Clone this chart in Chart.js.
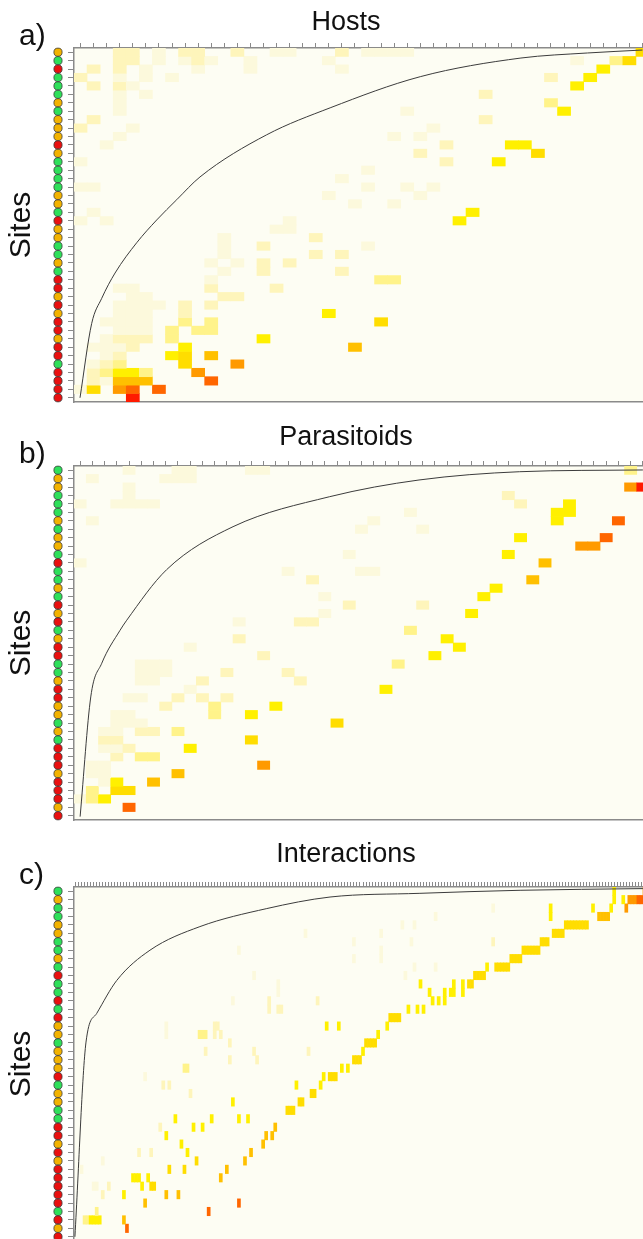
<!DOCTYPE html>
<html>
<head>
<meta charset="utf-8">
<script src="https://cdn.jsdelivr.net/npm/chart.js@4.4.0/dist/chart.umd.min.js"></script>
<style>
  html, body { margin: 0; padding: 0; background: #fff; width: 643px; height: 1239px; overflow: hidden; }
  .panel { position: absolute; left: 0; width: 660px; height: 420px; }
</style>
</head>
<body>
<div class="panel" style="top:0px"><canvas id="hosts"></canvas></div>
<div class="panel" style="top:418px"><canvas id="parasitoids"></canvas></div>
<div class="panel" style="top:839px"><canvas id="interactions"></canvas></div>
<script>
var ROWS = 42;
var FONT = "'Liberation Sans', Arial, sans-serif";

// colour of each abundance level, 0 = empty cell
var levelColors = [null, "#fcf9dc", "#fef5bb", "#fff38a", "#fff000", "#ffdd00", "#ffc000", "#ff9a00", "#ff6600", "#ff1a00"];
var matrixBg = "#fdfdf3";
var siteColor = { G: "#2ee05a", O: "#f3b300", R: "#ea1010" };

// ---- a) Hosts ----
var hostCols = 44;
var hostSites = "OGRGGGOGOOOROGGGGOOGROOGGOGRRORORRORRGRRRR";
// [row, first column, last column, level]
var hostCells = [
  [0,3,4,2],[0,6,6,1],[0,8,9,2],[0,12,12,2],[0,15,16,1],[0,20,20,2],[0,22,25,1],[0,43,43,5],
  [1,3,4,2],[1,6,6,1],[1,8,8,1],[1,9,9,2],[1,10,10,1],[1,13,13,1],[1,19,19,1],[1,38,38,1],[1,41,41,3],[1,42,42,5],
  [2,1,1,2],[2,3,3,2],[2,5,5,1],[2,9,9,1],[2,13,13,1],[2,20,20,1],[2,40,40,4],
  [3,0,0,2],[3,3,3,1],[3,5,5,1],[3,7,7,1],[3,36,36,2],[3,39,39,4],
  [4,1,1,2],[4,3,3,2],[4,4,4,1],[4,38,38,4],
  [5,3,3,1],[5,5,5,1],[5,31,31,2],
  [6,3,3,1],[6,36,36,3],
  [7,3,3,1],[7,25,25,1],[7,37,37,4],
  [8,1,1,2],[8,31,31,2],
  [9,0,0,2],[9,4,4,1],[9,27,27,1],
  [10,3,3,1],[10,24,24,1],[10,26,26,1],
  [11,2,2,1],[11,28,28,2],[11,33,34,4],
  [12,26,26,2],[12,35,35,5],
  [13,0,0,1],[13,28,28,2],[13,32,32,4],
  [14,22,22,1],
  [15,20,20,1],
  [16,0,1,1],[16,22,22,1],[16,25,25,1],[16,27,27,1],
  [17,19,19,1],[17,26,26,1],
  [18,21,21,1],[18,24,24,1],
  [19,1,1,1],[19,30,30,4],
  [20,0,0,1],[20,2,2,1],[20,16,16,1],[20,29,29,4],
  [21,15,16,1],
  [22,11,11,1],[22,18,18,2],
  [23,11,11,1],[23,14,14,2],[23,22,22,1],
  [24,11,11,1],[24,18,18,2],[24,20,20,2],
  [25,10,10,1],[25,12,12,1],[25,14,14,2],[25,16,16,2],
  [26,11,11,1],[26,14,14,2],[26,20,20,2],
  [27,10,10,1],[27,23,24,3],
  [28,3,4,1],[28,10,10,2],[28,15,15,2],
  [29,4,5,1],[29,11,12,2],
  [30,3,4,1],[30,5,6,1],[30,8,8,2],[30,10,10,2],
  [31,3,3,1],[31,4,5,1],[31,8,8,2],[31,19,19,4],
  [32,2,3,1],[32,4,5,1],[32,8,8,3],[32,10,10,3],[32,23,23,5],
  [33,3,5,1],[33,7,7,3],[33,9,10,3],
  [34,2,2,1],[34,3,5,2],[34,7,7,3],[34,14,14,4],
  [35,1,1,1],[35,2,3,1],[35,4,4,2],[35,8,8,4],[35,21,21,6],
  [36,2,2,1],[36,3,3,2],[36,7,7,4],[36,8,8,5],[36,10,10,6],
  [37,1,1,1],[37,2,2,2],[37,3,3,3],[37,8,8,5],[37,12,12,7],
  [38,1,1,2],[38,2,2,3],[38,3,4,4],[38,5,5,3],[38,9,9,7],
  [39,1,1,2],[39,2,2,1],[39,3,4,6],[39,5,5,6],[39,10,10,8],
  [40,0,0,1],[40,1,1,5],[40,3,3,7],[40,4,4,8],[40,6,6,8],
  [41,4,4,9]
];
var hostCurveX = [0.46, 1.35, 2.12, 3.14, 4.8, 6.33, 7.86, 9.64, 14.74, 19.6, 26.5, 34.2, 39.3, 43.5];
var hostCurveY = [41.5, 32.7, 29.7, 26.7, 23.1, 20.4, 18.0, 15.3, 10.3, 7.1, 3.4, 1.19, 0.59, 0.24];

// ---- b) Parasitoids ----
var paraCols = 47;
var paraSites = "GOOGGGOGOOGRGGOGRORGORRGGORROOGOGRRRORRROR";
var paraCells = [
  [0,4,4,1],[0,8,9,1],[0,14,15,1],[0,45,45,3],
  [1,1,1,1],[1,7,9,1],
  [2,4,4,1],[2,45,45,7],[2,46,46,9],
  [3,4,4,1],[3,35,35,2],
  [4,0,0,1],[4,3,6,1],[4,36,36,2],[4,40,40,4],
  [5,27,27,1],[5,39,40,4],
  [6,1,1,1],[6,24,24,1],[6,39,39,4],[6,44,44,8],
  [7,23,23,1],[7,28,28,1],
  [8,36,36,4],[8,43,43,8],
  [9,41,42,7],
  [10,22,22,1],[10,35,35,4],
  [11,0,0,1],[11,38,38,6],
  [12,17,17,1],[12,23,24,1],
  [13,19,19,2],[13,37,37,6],
  [14,34,34,4],
  [15,20,20,1],[15,33,33,4],
  [16,22,22,2],[16,28,28,2],
  [17,20,20,1],[17,32,32,4],
  [18,13,13,1],[18,18,19,2],
  [19,27,27,3],
  [20,13,13,2],[20,30,30,4],
  [21,9,9,1],[21,31,31,4],
  [22,15,15,2],[22,29,29,4],
  [23,5,7,1],[23,26,26,3],
  [24,5,7,1],[24,12,12,2],[24,17,17,2],
  [25,5,6,1],[25,10,10,2],[25,18,18,2],
  [26,9,9,1],[26,25,25,4],
  [27,4,5,1],[27,8,8,2],[27,10,10,2],[27,12,12,2],
  [28,7,7,2],[28,11,11,3],[28,16,16,4],
  [29,3,4,1],[29,11,11,3],[29,14,14,4],
  [30,3,5,1],[30,21,21,5],
  [31,2,3,1],[31,5,6,2],[31,8,8,3],
  [32,2,3,2],[32,14,14,5],
  [33,2,3,1],[33,4,4,2],[33,9,9,4],
  [34,3,3,2],[34,5,6,3],
  [35,1,2,1],[35,15,15,7],
  [36,1,2,1],[36,8,8,6],
  [37,2,2,1],[37,3,3,4],[37,6,6,6],
  [38,1,1,3],[38,3,4,5],
  [39,0,0,1],[39,1,1,3],[39,2,2,4],
  [40,4,4,8]
];
var paraCurveX = [0.5, 1.37, 2.27, 3.76, 4.31, 7.57, 13.0, 20.9, 28.2, 36.4, 46.5];
var paraCurveY = [41.6, 27.4, 23.4, 19.5, 18.3, 12.3, 7.2, 3.64, 1.66, 0.68, 0.47];

// ---- c) Interactions ----
var interCols = 190;
var interSites = "GOGGOOGGOGRGGRGROOGOOORGOOGGRRORORRRRRGROR";
var interCells = [
  [0,178,178,4],[0,188,189,7],
  [1,178,178,4],[1,181,181,4],[1,183,185,7],[1,186,187,8],
  [2,138,138,1],[2,157,157,4],[2,171,171,4],[2,177,177,4],[2,182,182,7],
  [3,119,119,1],[3,157,157,4],[3,173,176,6],
  [4,108,108,1],[4,112,112,1],[4,162,169,5],
  [5,76,76,1],[5,101,101,1],[5,158,161,5],
  [6,92,92,1],[6,111,111,1],[6,138,138,2],[6,154,156,5],
  [7,54,54,1],[7,101,101,1],[7,148,153,5],
  [8,92,92,1],[8,101,101,1],[8,144,147,5],
  [9,112,112,1],[9,119,119,1],[9,136,136,4],[9,139,143,5],
  [10,59,59,1],[10,109,109,1],[10,132,135,5],
  [11,67,67,1],[11,114,114,4],[11,125,125,4],[11,128,128,4],[11,130,131,5],
  [12,67,67,1],[12,117,117,4],[12,122,122,4],[12,124,125,4],[12,128,128,4],
  [13,52,52,1],[13,64,64,2],[13,80,80,2],[13,118,118,4],[13,120,120,4],[13,122,122,4],
  [14,64,64,2],[14,67,68,2],[14,110,110,4],[14,113,113,4],[14,115,115,4],
  [15,104,107,5],
  [16,30,30,1],[16,46,47,2],[16,83,83,4],[16,87,87,4],[16,103,103,4],
  [17,30,30,1],[17,41,43,3],[17,46,46,2],[17,48,48,2],[17,100,100,4],
  [18,51,51,2],[18,96,99,5],
  [19,43,43,2],[19,59,59,2],[19,77,77,2],[19,95,95,4],
  [20,51,51,2],[20,60,60,2],[20,92,94,5],
  [21,36,37,3],[21,88,88,4],[21,90,90,4],
  [22,23,23,1],[22,82,82,4],[22,84,86,5],
  [23,29,29,2],[23,31,31,2],[23,73,73,4],[23,81,81,4],
  [24,38,38,2],[24,78,79,5],
  [25,52,52,4],[25,74,75,5],
  [26,70,72,5],
  [27,33,33,4],[27,45,45,4],[27,54,54,4],[27,57,57,4],
  [28,28,28,2],[28,39,39,4],[28,42,42,4],[28,66,66,6],
  [29,30,30,4],[29,63,63,6],[29,65,65,6],
  [30,35,35,4],[30,62,62,6],
  [31,21,21,2],[31,25,25,2],[31,37,37,4],[31,58,58,6],
  [32,9,9,1],[32,40,40,5],[32,56,56,6],
  [33,2,2,1],[33,31,31,5],[33,36,36,5],[33,50,50,6],
  [34,19,21,4],[34,24,24,4],[34,48,48,6],
  [35,6,7,1],[35,11,11,2],[35,22,22,4],[35,25,26,5],
  [36,9,9,2],[36,16,16,4],[36,30,30,6],[36,34,34,6],
  [37,23,23,6],[37,54,54,8],
  [38,7,7,3],[38,44,44,8],
  [39,3,4,3],[39,5,8,4],[39,16,16,6],
  [40,17,17,8]
];
var interCurveX = [0.3, 3.97, 7.5, 14.1, 25.1, 41.6, 63.7, 84.6, 114.3, 147.4, 188];
var interCurveY = [41.5, 18.4, 15.0, 11.1, 7.5, 4.7, 2.56, 1.19, 0.75, 0.39, 0.19];

// one floating-bar dataset per site row
function rowDatasets(cells, ncols) {
  var sets = [];
  for (var r = 0; r < ROWS; r++) {
    var data = [], colors = [];
    for (var c = 0; c < ncols; c++) { data.push(null); colors.push("rgba(0,0,0,0)"); }
    sets.push({
      type: "bar", data: data, backgroundColor: colors,
      xAxisID: "x", yAxisID: "y", grouped: false,
      barPercentage: 1, categoryPercentage: 1, borderWidth: 0, order: 2
    });
  }
  cells.forEach(function (cell) {
    var r = cell[0];
    for (var c = cell[1]; c <= cell[2]; c++) {
      sets[r].data[c] = [r, r + 1];
      sets[r].backgroundColor[c] = levelColors[cell[3]];
    }
  });
  return sets;
}

var panelPlugin = {
  id: "panel",
  beforeDraw: function (chart) {
    var a = chart.chartArea, ctx = chart.ctx;
    ctx.save();
    ctx.fillStyle = matrixBg;
    ctx.fillRect(a.left, a.top, a.right - a.left, a.bottom - a.top);
    ctx.restore();
  },
  afterDraw: function (chart, args, opts) {
    var ctx = chart.ctx, a = chart.chartArea, y = chart.scales.y;
    ctx.save();
    for (var r = 0; r < opts.sites.length; r++) {
      ctx.beginPath();
      ctx.arc(a.left - 16, y.getPixelForValue(r + 0.5), 4.1, 0, Math.PI * 2);
      ctx.fillStyle = siteColor[opts.sites[r]];
      ctx.fill();
      ctx.lineWidth = 0.8;
      ctx.strokeStyle = "#3a3a3a";
      ctx.stroke();
    }
    ctx.fillStyle = "#111";
    ctx.textBaseline = "alphabetic";
    ctx.font = "27px " + FONT;
    ctx.textAlign = "center";
    ctx.fillText(opts.title, 346, opts.titleY);
    ctx.font = "30px " + FONT;
    ctx.textAlign = "left";
    ctx.fillText(opts.letter, 19, a.top - 3);
    ctx.restore();
  }
};
Chart.register(panelPlugin);

function drawPanel(id, p) {
  var datasets = rowDatasets(p.cells, p.cols);
  datasets.push({
    type: "line", xAxisID: "xl", yAxisID: "y",
    data: p.curveX.map(function (x, i) { return { x: x, y: p.curveY[i] }; }),
    borderColor: "#3c3c3c", borderWidth: 1, pointRadius: 0, fill: false,
    cubicInterpolationMode: "monotone", order: 0
  });
  var labels = [];
  for (var i = 0; i < p.cols; i++) labels.push(String(i + 1));
  var rowTicks = [];
  for (var r = 0; r < ROWS; r++) rowTicks.push({ value: r + 0.5 });

  return new Chart(document.getElementById(id).getContext("2d"), {
    type: "bar",
    data: { labels: labels, datasets: datasets },
    options: {
      responsive: true,
      maintainAspectRatio: false,
      animation: false,
      layout: { padding: { left: 0, top: 0, right: 11, bottom: 18 } },
      plugins: {
        legend: { display: false },
        tooltip: { enabled: false },
        panel: { sites: p.sites, title: p.title, titleY: p.titleY, letter: p.letter }
      },
      scales: {
        x: {
          type: "category", position: "top", offset: true, z: 1,
          grid: { drawOnChartArea: false, offset: false, tickLength: 5, color: "#8a8a8a" },
          border: { color: "#8a8a8a", width: 1.5 },
          ticks: { display: false, autoSkip: false },
          afterFit: function (s) { s.height = 48; }
        },
        xl: { type: "linear", display: false, offset: false, min: 0, max: p.cols },
        xb: {
          type: "linear", position: "bottom", offset: false, z: 1,
          grid: { display: false, drawTicks: false },
          ticks: { display: false },
          border: { color: "#8a8a8a", width: 1.5 },
          afterFit: function (s) { s.height = 0; }
        },
        y: {
          type: "linear", min: 0, max: ROWS, reverse: true, z: 1,
          grid: { drawOnChartArea: false, tickLength: 6, color: "#8a8a8a" },
          border: { color: "#8a8a8a", width: 1.5 },
          ticks: { display: false },
          afterBuildTicks: function (s) { s.ticks = rowTicks.slice(); },
          title: { display: true, text: "Sites", color: "#111", font: { family: FONT, size: 30 }, padding: { top: 4, bottom: 0 } },
          afterFit: function (s) { s.width = 74; }
        }
      }
    }
  });
}

document.addEventListener("DOMContentLoaded", function () {
  drawPanel("hosts", { cols: hostCols, sites: hostSites, cells: hostCells, curveX: hostCurveX, curveY: hostCurveY, title: "Hosts", titleY: 30, letter: "a)" });
  drawPanel("parasitoids", { cols: paraCols, sites: paraSites, cells: paraCells, curveX: paraCurveX, curveY: paraCurveY, title: "Parasitoids", titleY: 27, letter: "b)" });
  drawPanel("interactions", { cols: interCols, sites: interSites, cells: interCells, curveX: interCurveX, curveY: interCurveY, title: "Interactions", titleY: 23, letter: "c)" });
});
</script>
</body>
</html>
